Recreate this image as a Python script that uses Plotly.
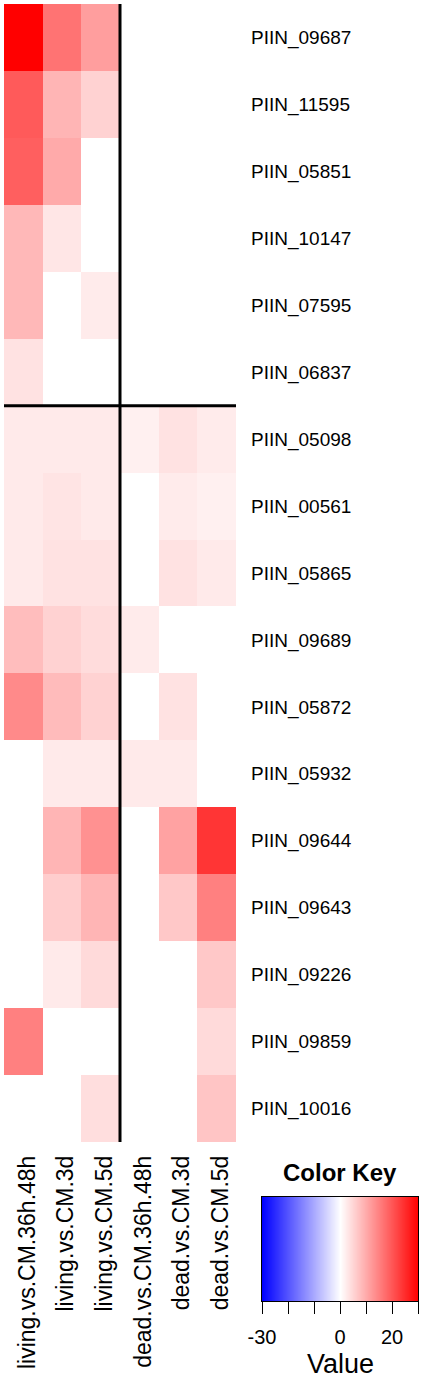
import plotly.graph_objects as go

genes = ["PIIN_09687", "PIIN_11595", "PIIN_05851", "PIIN_10147", "PIIN_07595",
         "PIIN_06837", "PIIN_05098", "PIIN_00561", "PIIN_05865", "PIIN_09689",
         "PIIN_05872", "PIIN_05932", "PIIN_09644", "PIIN_09643", "PIIN_09226",
         "PIIN_09859", "PIIN_10016"]
conditions = ["living.vs.CM.36h.48h", "living.vs.CM.3d", "living.vs.CM.5d",
              "dead.vs.CM.36h.48h", "dead.vs.CM.3d", "dead.vs.CM.5d"]

living_36h_48h = [30, 19.4, 18.8, 8.4, 8.4, 3.4, 2.5, 2.5, 2.5, 7.8, 13.8, None, None, None, None, 15, None]
living_3d = [16.5, 8.7, 10, 3.0, None, None, 2.5, 3.2, 3.4, 5.3, 8, 2.5, 8.7, 5.9, 2.5, None, None]
living_5d = [11.4, 5.3, None, None, 2.4, None, 2.5, 2.5, 3.4, 4.1, 5.3, 2.5, 13, 8.7, 4.4, None, 3.9]
dead_36h_48h = [None, None, None, None, None, None, 1.8, None, None, 2.4, None, 2.5, None, None, None, None, None]
dead_3d = [None, None, None, None, None, None, 3.4, 2.4, 3.4, None, 3.4, 2.5, 11, 6.5, None, None, None]
dead_5d = [None, None, None, None, None, None, 2.4, 1.8, 2.5, None, None, None, 23.8, 15, 6.5, 4.4, 6.8]

key_range = [-30, 30]
key_tickvals = [-30, -20, -10, 0, 10, 20, 30]
key_ticktext = ["-30", "", "", "0", "", "20", ""]

columns = [living_36h_48h, living_3d, living_5d, dead_36h_48h, dead_3d, dead_5d]
z = [[col[i] for col in columns] for i in range(len(genes))]

W, H = 423, 1379
FONT = "Liberation Sans, Arial, sans-serif"
CSCALE = [[0, "rgb(0,0,255)"], [0.5, "rgb(255,255,255)"], [1, "rgb(255,0,0)"]]

fig = go.Figure()
fig.add_trace(go.Heatmap(
    z=z, x=conditions, y=genes,
    zmin=key_range[0], zmax=key_range[1], colorscale=CSCALE,
    showscale=False, hoverongaps=False,
))

# Colour key drawn on its own small axes
fig.add_trace(go.Heatmap(
    z=[key_range, key_range], x=key_range, y=[0, 1],
    zmin=key_range[0], zmax=key_range[1], colorscale=CSCALE,
    zsmooth="best", showscale=False, xaxis="x2", yaxis="y2", hoverinfo="skip",
))

fig.add_shape(type="line", xref="x", yref="y", x0=2.5, x1=2.5, y0=-0.5, y1=16.5,
              line=dict(color="black", width=3))
fig.add_shape(type="line", xref="x", yref="y", x0=-0.5, x1=5.5, y0=5.5, y1=5.5,
              line=dict(color="black", width=3))

fig.add_annotation(text="<b>Color Key</b>", xref="paper", yref="paper",
                   x=340 / W, y=1 - 1172 / H, xanchor="center", yanchor="middle",
                   showarrow=False, font=dict(family=FONT, size=24, color="black"))
fig.add_annotation(text="Value", xref="x2 domain", yref="paper",
                   x=0.5, y=1 - 1364 / H, xanchor="center", yanchor="middle",
                   showarrow=False, font=dict(family=FONT, size=27, color="black"))

fig.update_layout(
    template="none",
    width=W, height=H,
    margin=dict(l=0, r=0, t=0, b=0, autoexpand=False),
    paper_bgcolor="white", plot_bgcolor="white",
    xaxis=dict(domain=[4 / W, 236 / W], range=[-0.5, 5.5], showgrid=False, zeroline=False,
               showline=False, ticks="", tickangle=-90, side="bottom", automargin=False,
               tickfont=dict(family=FONT, size=23, color="black"),
               ticklabelstandoff=8, ticklabelshift=4),
    yaxis=dict(domain=[1 - 1142 / H, 1 - 4 / H], range=[16.5, -0.5], showgrid=False,
               zeroline=False, showline=False, ticks="", side="right", automargin=False,
               tickfont=dict(family=FONT, size=19, color="black"), ticklabelstandoff=14),
    xaxis2=dict(domain=[262 / W, 418 / W], anchor="y2", range=key_range,
                showgrid=False, zeroline=False, showline=True, mirror=True,
                linecolor="black", linewidth=1,
                tickmode="array", tickvals=key_tickvals, ticktext=key_ticktext,
                ticks="outside", ticklen=12, tickwidth=1, tickcolor="black",
                tickfont=dict(family=FONT, size=20, color="black"),
                ticklabelstandoff=6, automargin=False),
    yaxis2=dict(domain=[1 - 1301 / H, 1 - 1197 / H], anchor="x2", range=[-0.5, 1.5],
                showgrid=False, zeroline=False, showline=True, mirror=True,
                linecolor="black", linewidth=1, showticklabels=False, ticks="",
                automargin=False),
)

fig.write_html("out.html", post_script="document.body.style.margin='0';",
               config={"displayModeBar": False})
